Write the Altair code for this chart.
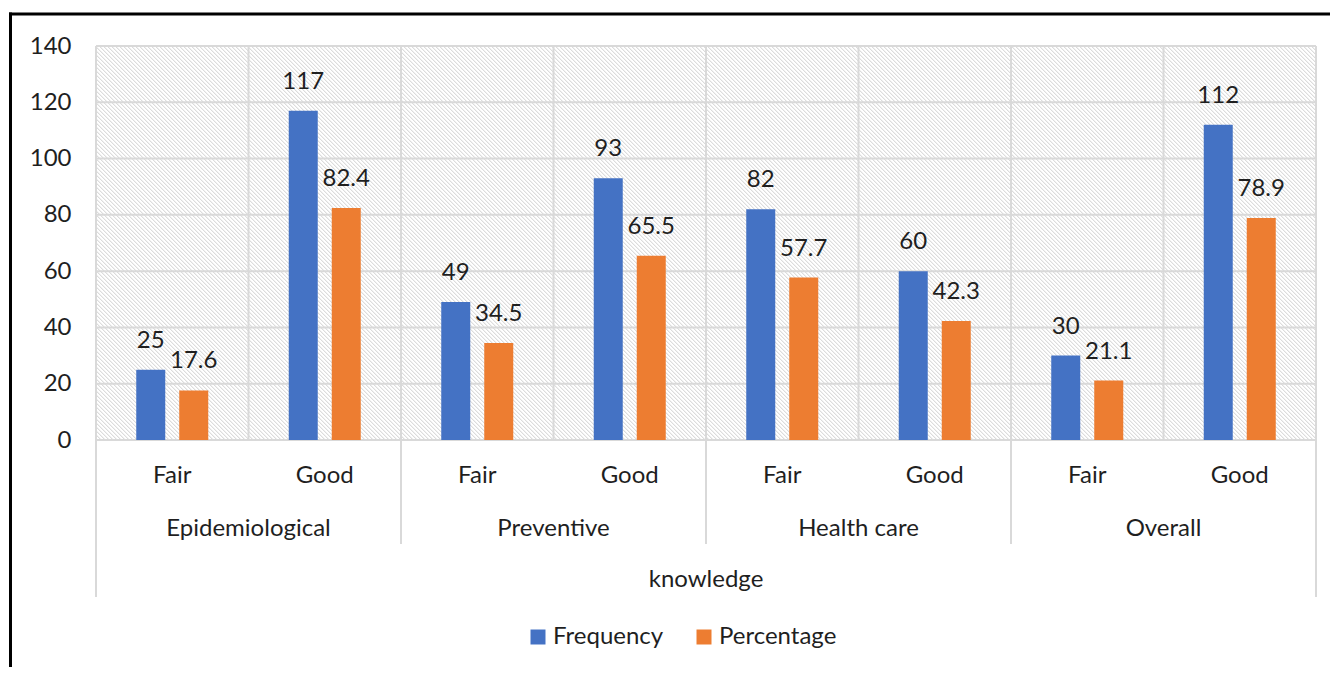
import altair as alt
import pandas as pd

# ---------------- data ----------------
groups = ["Epidemiological", "Preventive", "Health care", "Overall"]
levels = ["Fair", "Good"]
series = ["Frequency", "Percentage"]
frequency = [25, 117, 49, 93, 82, 60, 30, 112]
percentage = [17.6, 82.4, 34.5, 65.5, 57.7, 42.3, 21.1, 78.9]
y_ticks = [0, 20, 40, 60, 80, 100, 120, 140]
axis_title = "knowledge"

# ---------------- style ----------------
W, H = 1220, 394
FONT = "Lato"
TXT = "#1f1f1f"
GRID = "#d9d9d9"
COLORS = ["#4472C4", "#ED7D31"]
FS = 24

keys = [f"{g}|{l}" for g in groups for l in levels]
rows = []
for i, k in enumerate(keys):
    g, l = k.split("|")
    rows.append({"key": k, "group": g, "level": l, "series": series[0], "value": frequency[i]})
    rows.append({"key": k, "group": g, "level": l, "series": series[1], "value": percentage[i]})
df = pd.DataFrame(rows)
cats = pd.DataFrame({"key": keys,
                     "group": [k.split("|")[0] for k in keys],
                     "level": [k.split("|")[1] for k in keys]})
grid_df = pd.DataFrame({"value": y_ticks})

xscale = alt.Scale(type="band", domain=keys, paddingInner=0, paddingOuter=0)
yscale = alt.Scale(domain=[0, 140], nice=False)
yaxis = alt.Axis(values=y_ticks, grid=False, domain=False, ticks=False, labelFontSize=FS,
                 labelFont=FONT, labelColor=TXT, labelPadding=25, title=None)
xoff = alt.XOffset("series:N", scale=alt.Scale(domain=series, paddingInner=0.3256, paddingOuter=0.936))

# hatched background built as a striped linear gradient (lines run down-right)
L = W + H
stops = []
k = 0
while k * 4 <= L:
    b = k * 4
    for v, c in [(b + 0.5, "#ffffff"), (b + 0.5, "#dcdcdc"), (b + 1.5, "#dcdcdc"),
                 (b + 1.5, "#f1f1f1"), (b + 2.5, "#f1f1f1"), (b + 2.5, "#ffffff")]:
        if v <= L:
            stops.append(alt.GradientStop(offset=v / L, color=c))
    k += 1
stops = [alt.GradientStop(offset=0, color="#ffffff")] + stops + [alt.GradientStop(offset=1, color="#ffffff")]
r = H / W
t = (1 + r) / (1 + r * r)
hatch_grad = alt.LinearGradient(gradient="linear", stops=stops, x1=0, y1=1, x2=t, y2=1 - r * t)

one = alt.Data(values=[{"a": 1}])

hatch = alt.Chart(one).mark_rect(fill=hatch_grad, strokeWidth=0).encode(
    x=alt.value(0), x2=alt.value(W), y=alt.value(0), y2=alt.value(H))

hgrid = alt.Chart(grid_df).mark_rule(color=GRID, strokeWidth=2).encode(
    y=alt.Y("value:Q", scale=yscale, axis=yaxis),
    x=alt.value(0), x2=alt.value(W))

vinner = alt.Chart(cats).transform_filter(alt.datum.level == levels[1]).mark_rule(
    color=GRID, strokeWidth=2).encode(
    x=alt.X("key:N", scale=xscale, bandPosition=0, axis=None),
    y=alt.value(0), y2=alt.value(H))

vgroup = alt.Chart(cats).transform_filter(
    (alt.datum.level == levels[0]) & (alt.datum.group != groups[0])).mark_rule(
    color=GRID, strokeWidth=2).encode(
    x=alt.X("key:N", scale=xscale, bandPosition=0, axis=None),
    y=alt.value(0), y2=alt.value(H + 104))

vleft = alt.Chart(cats).transform_filter(alt.datum.key == keys[0]).mark_rule(
    color=GRID, strokeWidth=2).encode(
    x=alt.X("key:N", scale=xscale, bandPosition=0, axis=None),
    y=alt.value(0), y2=alt.value(H + 157))

vright = alt.Chart(cats).transform_filter(alt.datum.key == keys[-1]).mark_rule(
    color=GRID, strokeWidth=2).encode(
    x=alt.X("key:N", scale=xscale, bandPosition=1, axis=None),
    y=alt.value(0), y2=alt.value(H + 157))

bars = alt.Chart(df).mark_bar().encode(
    x=alt.X("key:N", scale=xscale, axis=None),
    xOffset=xoff,
    y=alt.Y("value:Q", scale=yscale, axis=yaxis),
    color=alt.Color("series:N", scale=alt.Scale(domain=series, range=COLORS),
                    legend=alt.Legend(title=None, orient="none", legendX=430, legendY=579,
                                      direction="horizontal", symbolType="square", symbolSize=225,
                                      symbolStrokeWidth=0, symbolOpacity=1, labelFont=FONT,
                                      labelFontSize=FS, labelColor=TXT, labelOffset=3,
                                      columnPadding=28)),
)

labels = alt.Chart(df).mark_text(font=FONT, fontSize=FS, color=TXT, baseline="alphabetic",
                                 align="center", dy=-22).encode(
    x=alt.X("key:N", scale=xscale, axis=None),
    xOffset=xoff,
    y=alt.Y("value:Q", scale=yscale, axis=yaxis),
    text=alt.Text("value:Q"),
)

sub_labels = alt.Chart(cats).mark_text(font=FONT, fontSize=FS, color=TXT, baseline="alphabetic",
                                       align="center").encode(
    x=alt.X("key:N", scale=xscale, axis=None),
    y=alt.value(H + 43),
    text="level:N",
)

group_labels = alt.Chart(cats).transform_filter(alt.datum.level == levels[0]).mark_text(
    font=FONT, fontSize=FS, color=TXT, baseline="alphabetic", align="center").encode(
    x=alt.X("key:N", scale=xscale, bandPosition=1, axis=None),
    y=alt.value(H + 96),
    text="group:N",
)

title_txt = alt.Chart(alt.Data(values=[{"t": axis_title}])).mark_text(
    font=FONT, fontSize=FS, color=TXT, baseline="alphabetic", align="center").encode(
    x=alt.value(W / 2), y=alt.value(H + 147), text="t:N")

border_top = alt.Chart(one).mark_rule(color="#000000", strokeWidth=3).encode(
    x=alt.value(-87), x2=alt.value(W + 14), y=alt.value(-32))
border_left = alt.Chart(one).mark_rule(color="#000000", strokeWidth=3).encode(
    x=alt.value(-85.5), y=alt.value(-33.5), y2=alt.value(H + 227))

chart = alt.layer(
    hatch, hgrid, vinner, vgroup, vleft, vright, bars, labels,
    sub_labels, group_labels, title_txt, border_top, border_left
).properties(
    width=W, height=H,
    padding={"left": 88, "top": 38, "right": 14, "bottom": 227},
    autosize=alt.AutoSizeParams(type="none"),
    background="#ffffff",
).configure_view(stroke=None)

chart.save("out.html", embed_options={"renderer": "svg", "actions": False})
